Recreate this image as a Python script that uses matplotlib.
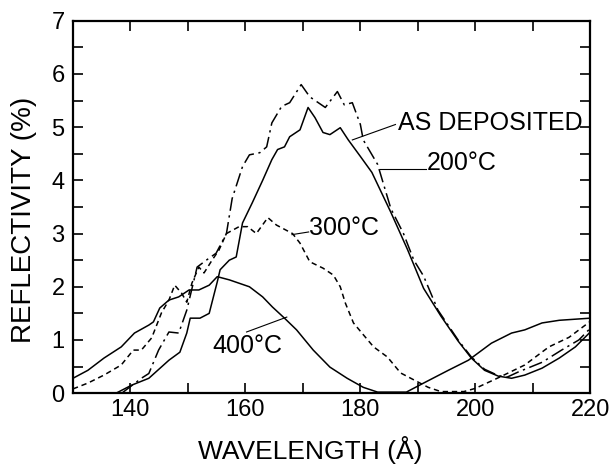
import matplotlib
matplotlib.use("Agg")
import matplotlib.pyplot as plt
from matplotlib.ticker import MultipleLocator

plt.rcParams["font.family"] = ["Liberation Sans", "DejaVu Sans"]

# reflectivity curves (wavelength in A, reflectivity in %)
x_asdep = [137.5, 140.2, 143.2, 146.7, 148.6, 149.8, 150.4, 152.1, 153.7, 154.6,
           155.1, 155.6, 157.2, 158.4, 159.5, 161.2, 163.0, 164.6, 165.6, 166.8,
           167.7, 169.5, 170.9, 172.1, 173.5, 174.7, 176.5, 177.9, 180.0, 182.0,
           185.3, 188.2, 191.0, 194.0, 197.0, 199.3, 201.6, 204.0, 206.3, 208.6,
           211.6, 214.6, 217.4, 220.0]
y_asdep = [0.0, 0.15, 0.28, 0.62, 0.77, 1.13, 1.41, 1.41, 1.50, 1.88,
           2.09, 2.32, 2.50, 2.56, 3.20, 3.58, 4.00, 4.39, 4.58, 4.63,
           4.82, 4.95, 5.37, 5.18, 4.90, 4.86, 4.99, 4.76, 4.45, 4.15,
           3.40, 2.70, 1.97, 1.45, 0.98, 0.66, 0.43, 0.32, 0.28, 0.34,
           0.47, 0.66, 0.87, 1.15]

x_200 = [138.5, 141.9, 143.2, 144.9, 146.7, 148.4, 149.8, 151.6, 153.2, 154.9,
         156.7, 157.7, 159.5, 160.7, 162.5, 163.7, 164.6, 166.3, 167.7, 169.7,
         171.2, 173.9, 176.0, 177.2, 178.6, 180.0, 180.5, 183.0, 185.3, 187.5,
         189.3, 191.0, 193.5, 197.0, 199.3, 201.6, 204.0, 205.5, 207.5, 211.6,
         215.0, 218.0, 220.0]
y_200 = [0.0, 0.28, 0.37, 0.81, 1.15, 1.13, 1.56, 2.37, 2.50, 2.63,
         3.00, 3.66, 4.26, 4.48, 4.52, 4.63, 5.08, 5.39, 5.46, 5.80,
         5.57, 5.37, 5.67, 5.42, 5.46, 5.05, 4.76, 4.30, 3.47, 3.00,
         2.50, 2.20, 1.56, 1.00, 0.68, 0.45, 0.33, 0.30, 0.40, 0.58,
         0.81, 1.00, 1.22]

x_300 = [130.0, 132.6, 135.4, 138.4, 140.5, 141.9, 143.7, 145.4, 146.7, 147.7,
         148.9, 149.8, 150.7, 151.9, 152.8, 154.2, 155.4, 156.7, 158.9, 160.4,
         161.9, 163.9, 165.4, 168.2, 169.5, 171.2, 173.5, 175.3, 176.5, 177.4,
         178.8, 180.5, 182.3, 184.7, 187.0, 189.3, 191.8, 194.0, 198.0, 200.0,
         204.2, 208.6, 212.8, 216.3, 220.0]
y_300 = [0.08, 0.19, 0.34, 0.53, 0.81, 0.81, 1.04, 1.51, 1.75, 2.03,
         1.88, 1.71, 2.07, 2.37, 2.26, 2.50, 2.69, 3.00, 3.13, 3.13,
         3.00, 3.30, 3.16, 3.00, 2.82, 2.47, 2.35, 2.22, 2.00, 1.69,
         1.32, 1.10, 0.87, 0.68, 0.38, 0.25, 0.11, 0.03, 0.03, 0.09,
         0.30, 0.53, 0.87, 1.05, 1.35]

x_400 = [130.0, 132.6, 135.4, 138.4, 140.7, 143.2, 144.0, 145.1, 146.7, 148.4,
         150.2, 151.9, 153.7, 155.1, 157.2, 160.7, 163.0, 164.7, 166.8, 168.9,
         171.8, 174.7, 177.7, 180.5, 183.0, 188.0, 191.0, 195.3, 198.8, 202.8,
         206.3, 208.6, 211.6, 214.6, 220.0]
y_400 = [0.28, 0.43, 0.66, 0.87, 1.13, 1.28, 1.34, 1.60, 1.75, 1.81,
         1.94, 1.94, 2.03, 2.19, 2.13, 2.00, 1.81, 1.62, 1.41, 1.19,
         0.81, 0.49, 0.28, 0.11, 0.02, 0.02, 0.19, 0.43, 0.62, 0.94,
         1.13, 1.19, 1.32, 1.37, 1.41]

fig = plt.figure(figsize=(6.13, 4.72), dpi=100)
ax = fig.add_axes([0.119, 0.167, 0.844, 0.789])

lw = 1.1
ax.plot(x_asdep, y_asdep, color="black", lw=lw)
ax.plot(x_200, y_200, color="black", lw=lw, dashes=(9, 3, 1.5, 3))
ax.plot(x_300, y_300, color="black", lw=lw, dashes=(3.5, 2.5))
ax.plot(x_400, y_400, color="black", lw=lw)

# curve labels with leader lines
fs = 18
ax.text(186.5, 5.08, "AS DEPOSITED", fontsize=fs, va="center", ha="left")
ax.plot([186.1, 178.6], [5.05, 4.76], color="black", lw=0.8)
ax.text(191.6, 4.33, "200\u00b0C", fontsize=fs, va="center", ha="left")
ax.plot([191.4, 183.5], [4.22, 4.22], color="black", lw=0.8)
ax.text(171.1, 3.1, "300\u00b0C", fontsize=fs, va="center", ha="left")
ax.plot([171.0, 168.1], [3.03, 2.98], color="black", lw=0.8)
ax.text(154.2, 0.88, "400\u00b0C", fontsize=fs, va="center", ha="left")
ax.plot([160.2, 167.2], [1.15, 1.43], color="black", lw=0.8)

ax.set_xlim(130, 220)
ax.set_ylim(0, 7)
ax.xaxis.set_major_locator(MultipleLocator(20))
ax.xaxis.set_minor_locator(MultipleLocator(10))
ax.yaxis.set_major_locator(MultipleLocator(1))
ax.yaxis.set_minor_locator(MultipleLocator(0.5))
ax.tick_params(which="both", direction="in", top=True, right=True,
               length=7, width=1.2, labelsize=17)
ax.tick_params(axis="x", pad=4)
ax.tick_params(axis="y", pad=6)
for s in ax.spines.values():
    s.set_linewidth(1.6)

fig.text(0.506, 0.018, "WAVELENGTH (\u00c5)", fontsize=19, ha="center", va="bottom")
fig.text(0.039, 0.534, "REFLECTIVITY (%)", fontsize=20, ha="center", va="center",
         rotation=90)

plt.savefig("out.png", dpi=100, facecolor="white")
plt.close()
